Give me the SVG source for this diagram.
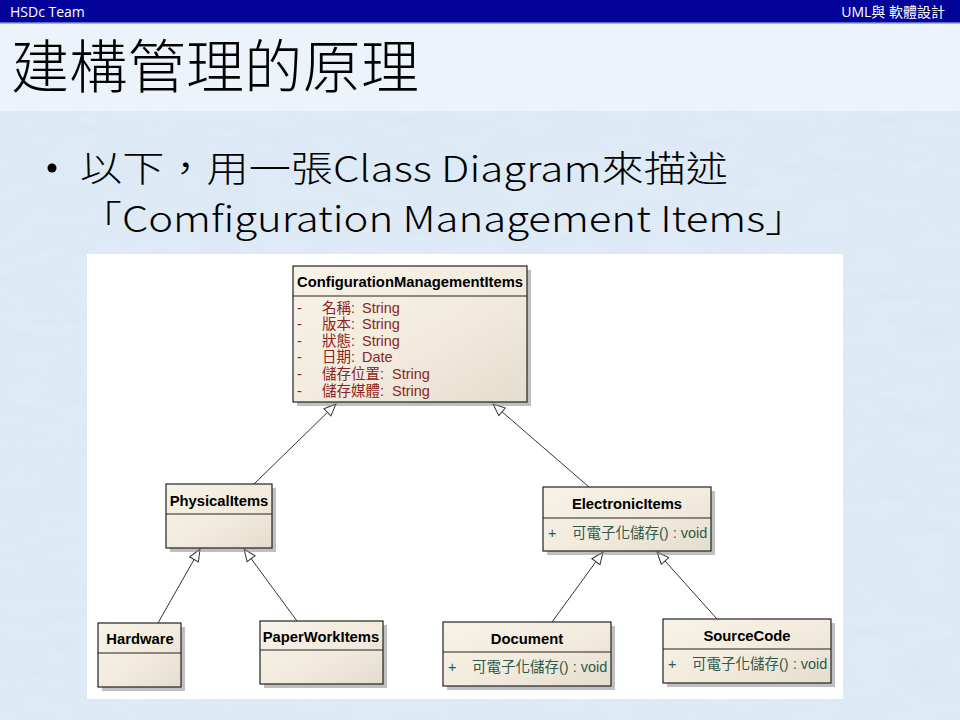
<svg xmlns="http://www.w3.org/2000/svg" width="960" height="720" viewBox="0 0 960 720">
<defs>
  <filter id="tex" x="0" y="0" width="100%" height="100%">
    <feTurbulence type="fractalNoise" baseFrequency="0.02 0.08" numOctaves="3" seed="4" result="n"/>
    <feColorMatrix in="n" type="matrix" values="0 0 0 0 0.78  0 0 0 0 0.86  0 0 0 0 0.94  0 0 0 0.55 0"/>
  </filter>
  <linearGradient id="boxfill" x1="0" y1="0" x2="1" y2="1">
    <stop offset="0" stop-color="#f8f3e8"/>
    <stop offset="0.6" stop-color="#f1eadc"/>
    <stop offset="1" stop-color="#e4dccd"/>
  </linearGradient>
  <marker id="gen" viewBox="0 0 14 12" refX="13" refY="6" markerWidth="14" markerHeight="12" markerUnits="userSpaceOnUse" orient="auto">
    <path d="M1,1 L13,6 L1,11 Z" fill="#ffffff" stroke="#333333" stroke-width="1"/>
  </marker>
  <style>
    .cls { fill: url(#boxfill); stroke: #222; stroke-width: 1.2; }
    .shd { fill: #8a8a8a; opacity: 0.55; }
    .div { stroke: #222; stroke-width: 1.2; }
    .name { font-family: "Liberation Sans", Arial, sans-serif; font-weight: bold; font-size: 14.8px; fill: #000; }
    .attr { font-family: "Liberation Sans", Arial, "Noto Sans CJK TC", sans-serif; font-size: 14.5px; fill: #8b2323; }
    .meth { font-family: "Liberation Sans", Arial, "Noto Sans CJK TC", sans-serif; font-size: 14.5px; fill: #2f5a4a; }
    .conn line { stroke: #333; stroke-width: 1; fill: none; marker-end: url(#gen); }
    .hdr { font-family: "Open Sans", "Noto Sans CJK TC", sans-serif; font-size: 14px; fill: #fff; }
    .body { font-family: "Noto Sans CJK TC", "Noto Sans", sans-serif; font-size: 36px; font-weight: 300; fill: #000; }
  </style>
</defs>

<!-- background -->
<rect x="0" y="0" width="960" height="720" fill="#dbe8f4"/>
<rect x="0" y="0" width="960" height="720" filter="url(#tex)"/>
<rect x="0" y="23" width="960" height="88" fill="#f0f5fa" opacity="0.85"/>

<!-- header bar -->
<rect x="0" y="0" width="960" height="23" fill="#03039a"/>
<rect x="0" y="22" width="960" height="1.5" fill="#5a6ad0"/>
<text class="hdr" x="10" y="17">HSDc Team</text>
<text class="hdr" x="945" y="17" text-anchor="end">UML與 軟體設計</text>

<!-- title -->
<text x="11" y="88" font-family="'Noto Sans CJK TC', 'Noto Sans CJK SC', sans-serif" font-size="58" font-weight="300" fill="#000" textLength="408" lengthAdjust="spacing">建構管理的原理</text>

<!-- bullet text -->
<circle cx="52" cy="168" r="4.5" fill="#000"/>
<text class="body" x="80" y="182" textLength="648" lengthAdjust="spacingAndGlyphs">以下，用一張Class Diagram來描述</text>
<text class="body" x="80" y="232" textLength="727" lengthAdjust="spacingAndGlyphs">「Comfiguration Management Items」</text>

<!-- diagram panel -->
<rect x="87" y="254" width="756" height="445" fill="#ffffff"/>

<!-- connectors -->
<g id="connectors" class="conn">
  <line x1="254" y1="484" x2="336" y2="404"/>
  <line x1="589" y1="487" x2="493" y2="404"/>
  <line x1="158" y1="623" x2="200" y2="549"/>
  <line x1="297" y1="621" x2="244" y2="549"/>
  <line x1="552" y1="622" x2="603" y2="552"/>
  <line x1="717" y1="619" x2="657" y2="552"/>
</g>

<!-- ConfigurationManagementItems -->
<g id="ConfigurationManagementItems">
  <rect class="shd" x="297" y="270" width="234" height="136"/>
  <rect class="cls" x="293" y="266" width="234" height="136"/>
  <line class="div" x1="293" y1="296" x2="527" y2="296"/>
  <text class="name" x="410" y="287" text-anchor="middle">ConfigurationManagementItems</text>
  <text class="attr" x="297" y="313">-</text><text class="attr" x="322" y="313">名稱:</text><text class="attr" x="362" y="313">String</text>
  <text class="attr" x="297" y="329">-</text><text class="attr" x="322" y="329">版本:</text><text class="attr" x="362" y="329">String</text>
  <text class="attr" x="297" y="346">-</text><text class="attr" x="322" y="346">狀態:</text><text class="attr" x="362" y="346">String</text>
  <text class="attr" x="297" y="362">-</text><text class="attr" x="322" y="362">日期:</text><text class="attr" x="362" y="362">Date</text>
  <text class="attr" x="297" y="379">-</text><text class="attr" x="322" y="379">儲存位置:</text><text class="attr" x="392" y="379">String</text>
  <text class="attr" x="297" y="396">-</text><text class="attr" x="322" y="396">儲存媒體:</text><text class="attr" x="392" y="396">String</text>
</g>

<!-- PhysicalItems -->
<g id="PhysicalItems">
  <rect class="shd" x="170" y="488" width="106" height="64"/>
  <rect class="cls" x="166" y="484" width="106" height="64"/>
  <line class="div" x1="166" y1="514" x2="272" y2="514"/>
  <text class="name" x="219" y="506" text-anchor="middle">PhysicalItems</text>
</g>

<!-- ElectronicItems -->
<g id="ElectronicItems">
  <rect class="shd" x="547" y="491" width="168" height="64"/>
  <rect class="cls" x="543" y="487" width="168" height="64"/>
  <line class="div" x1="543" y1="518" x2="711" y2="518"/>
  <text class="name" x="627" y="509" text-anchor="middle">ElectronicItems</text>
  <text class="meth" x="548" y="538">+</text>
  <text class="meth" x="572" y="538">可電子化儲存() : void</text>
</g>

<!-- Hardware -->
<g id="Hardware">
  <rect class="shd" x="102" y="627" width="83" height="64"/>
  <rect class="cls" x="98" y="623" width="83" height="64"/>
  <line class="div" x1="98" y1="653" x2="181" y2="653"/>
  <text class="name" x="140" y="644" text-anchor="middle">Hardware</text>
</g>

<!-- PaperWorkItems -->
<g id="PaperWorkItems">
  <rect class="shd" x="264" y="625" width="123" height="63"/>
  <rect class="cls" x="260" y="621" width="123" height="63"/>
  <line class="div" x1="260" y1="650" x2="383" y2="650"/>
  <text class="name" x="321" y="642" text-anchor="middle">PaperWorkItems</text>
</g>

<!-- Document -->
<g id="Document">
  <rect class="shd" x="447" y="626" width="168" height="64"/>
  <rect class="cls" x="443" y="622" width="168" height="64"/>
  <line class="div" x1="443" y1="652" x2="611" y2="652"/>
  <text class="name" x="527" y="644" text-anchor="middle">Document</text>
  <text class="meth" x="448" y="672">+</text>
  <text class="meth" x="472" y="672">可電子化儲存() : void</text>
</g>

<!-- SourceCode -->
<g id="SourceCode">
  <rect class="shd" x="667" y="623" width="168" height="64"/>
  <rect class="cls" x="663" y="619" width="168" height="64"/>
  <line class="div" x1="663" y1="649" x2="831" y2="649"/>
  <text class="name" x="747" y="641" text-anchor="middle">SourceCode</text>
  <text class="meth" x="668" y="669">+</text>
  <text class="meth" x="692" y="669">可電子化儲存() : void</text>
</g>
</svg>
